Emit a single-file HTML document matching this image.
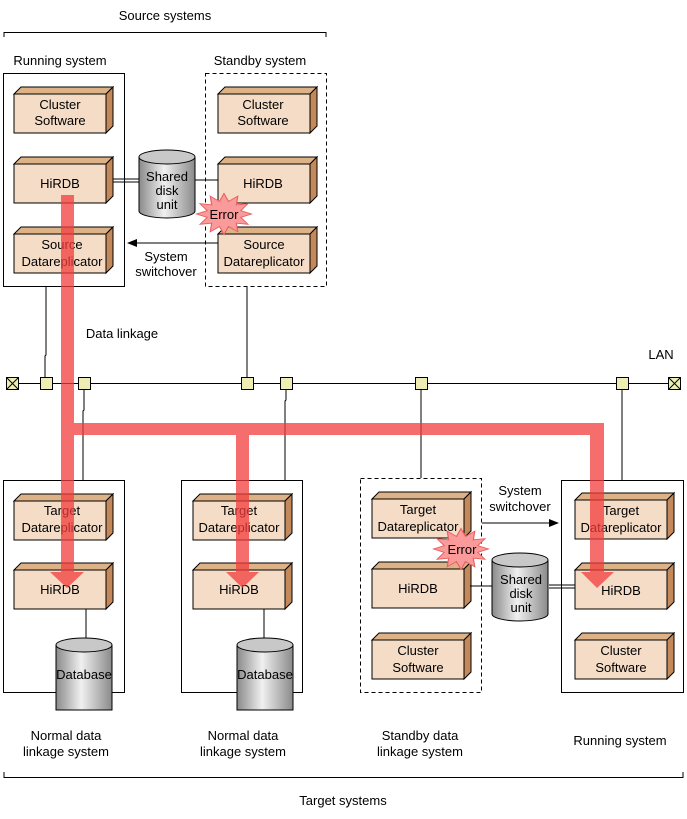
<!DOCTYPE html>
<html><head><meta charset="utf-8"><style>
html,body{margin:0;padding:0;background:#fff}
svg{display:block}
text{font-family:"Liberation Sans",sans-serif;font-size:13px;fill:#000;text-anchor:middle}
</style></head><body>
<svg width="687" height="819" viewBox="0 0 687 819" xmlns="http://www.w3.org/2000/svg">
<defs>
<g id="blk">
<polygon points="0,0 7,-7 99,-7 92,0" fill="#ddb287" stroke="#000" stroke-width="1"/>
<polygon points="92,0 99,-7 99,32 92,39" fill="#c4895a" stroke="#000" stroke-width="1"/>
<rect x="0" y="0" width="92" height="39" fill="#f5dcc6" stroke="#000" stroke-width="1"/>
</g>
<linearGradient id="cg" x1="0" x2="1" y1="0" y2="0">
<stop offset="0" stop-color="#8a8a8a"/><stop offset="0.45" stop-color="#f0f0f0"/><stop offset="1" stop-color="#8a8a8a"/>
</linearGradient>
<g id="cyl">
<path d="M0,7 L0,61 A28,7 0 0 0 56,61 L56,7" fill="url(#cg)" stroke="#000"/>
<ellipse cx="28" cy="7" rx="28" ry="7" fill="#c8c8c8" stroke="#000"/>
</g>
<g id="dbc">
<path d="M0,7 L0,72 L56,72 L56,7" fill="url(#cg)" stroke="#000"/>
<ellipse cx="28" cy="7" rx="28" ry="7" fill="#c8c8c8" stroke="#000"/>
</g>
<polygon id="star" points="19,0 11.6,3.1 16.5,9.5 8.5,8.5 9.5,16.5 3.1,11.6 0,19 -3.1,11.6 -9.5,16.5 -8.5,8.5 -16.5,9.5 -11.6,3.1 -19,0 -11.6,-3.1 -16.5,-9.5 -8.5,-8.5 -9.5,-16.5 -3.1,-11.6 0,-19 3.1,-11.6 9.5,-16.5 8.5,-8.5 16.5,-9.5 11.6,-3.1" fill="#fa9a9a" stroke="#e86060" stroke-width="0.8"/>
</defs>

<!-- top bracket -->
<text x="165" y="20">Source systems</text>
<path d="M4,37 V32.5 H326 V37" fill="none" stroke="#000"/>

<!-- source boxes -->
<text x="60" y="65">Running system</text>
<text x="260" y="65">Standby system</text>
<rect x="3.5" y="73.5" width="121" height="213" fill="none" stroke="#000"/>
<rect x="205.5" y="73.5" width="121" height="213" fill="none" stroke="#000" stroke-dasharray="4,3"/>

<use href="#blk" x="14" y="94"/><text x="60" y="109">Cluster</text><text x="60" y="125">Software</text>
<use href="#blk" x="14" y="164"/><text x="60" y="188">HiRDB</text>
<use href="#blk" x="14" y="234"/><text x="62" y="249">Source</text><text x="62" y="266">Datareplicator</text>
<use href="#blk" x="218" y="94"/><text x="263" y="109">Cluster</text><text x="263" y="125">Software</text>
<use href="#blk" x="218" y="164"/><text x="263" y="188">HiRDB</text>
<use href="#blk" x="218" y="234"/><text x="264" y="249">Source</text><text x="264" y="266">Datareplicator</text>

<use href="#cyl" x="139" y="150"/>
<text x="167" y="181">Shared</text><text x="167" y="195">disk</text><text x="167" y="209">unit</text>
<path d="M113,179 H139 M113,182 H139" stroke="#000"/>
<path d="M195,180 H218" stroke="#000"/>
<g transform="translate(224,214) scale(1.45,1.08)"><use href="#star"/></g>
<text x="224" y="219">Error</text>
<path d="M218,243 H134" stroke="#000"/><polygon points="127,243 137,239 137,247" fill="#000"/>
<text x="166" y="261">System</text><text x="166" y="276">switchover</text>

<!-- LAN -->
<path d="M46,287 V355 L45,356 V383 M247,287 V383" stroke="#000" fill="none"/>
<text x="122" y="338">Data linkage</text>
<text x="661" y="359">LAN</text>
<path d="M12,383.5 H675" stroke="#000"/>
<path d="M84,389 V410 L83,411 V480 M286,389 V400 L285,401 V480 M421,389 V478 M622,389 V480" stroke="#000" fill="none"/>
<g fill="#eeeeb4" stroke="#000">
<rect x="6.5" y="377.5" width="12" height="12"/>
<rect x="40.5" y="377.5" width="12" height="12"/>
<rect x="78.5" y="377.5" width="12" height="12"/>
<rect x="241.5" y="377.5" width="12" height="12"/>
<rect x="280.5" y="377.5" width="12" height="12"/>
<rect x="415.5" y="377.5" width="12" height="12"/>
<rect x="616.5" y="377.5" width="12" height="12"/>
<rect x="668.5" y="377.5" width="12" height="12"/>
</g>
<path d="M6.5,377.5 L18.5,389.5 M18.5,377.5 L6.5,389.5 M668.5,377.5 L680.5,389.5 M680.5,377.5 L668.5,389.5" stroke="#000"/>

<!-- target boxes -->
<rect x="3.5" y="480.5" width="121" height="212" fill="none" stroke="#000"/>
<rect x="181.5" y="480.5" width="121" height="212" fill="none" stroke="#000"/>
<rect x="360.5" y="478.5" width="121" height="214" fill="none" stroke="#000" stroke-dasharray="4,3"/>
<rect x="561.5" y="480.5" width="122" height="212" fill="none" stroke="#000"/>

<use href="#blk" x="14" y="501"/><text x="62" y="515">Target</text><text x="62" y="532">Datareplicator</text>
<use href="#blk" x="14" y="570"/><text x="60" y="594">HiRDB</text>
<path d="M86,609 V638" stroke="#000"/>
<use href="#dbc" x="56" y="638"/><text x="84" y="679">Database</text>

<use href="#blk" x="193" y="501"/><text x="239" y="515">Target</text><text x="239" y="532">Datareplicator</text>
<use href="#blk" x="193" y="570"/><text x="239" y="594">HiRDB</text>
<path d="M264,609 V638" stroke="#000"/>
<use href="#dbc" x="237" y="638"/><text x="265" y="679">Database</text>

<use href="#blk" x="372" y="499"/><text x="418" y="514">Target</text><text x="418" y="531">Datareplicator</text>
<use href="#blk" x="372" y="569"/><text x="418" y="593">HiRDB</text>
<use href="#blk" x="372" y="640"/><text x="418" y="655">Cluster</text><text x="418" y="672">Software</text>

<use href="#blk" x="575" y="500"/><text x="621" y="515">Target</text><text x="621" y="532">Datareplicator</text>
<use href="#blk" x="575" y="570"/><text x="621" y="595">HiRDB</text>
<use href="#blk" x="575" y="640"/><text x="621" y="655">Cluster</text><text x="621" y="672">Software</text>

<use href="#cyl" x="492" y="553"/>
<text x="521" y="584">Shared</text><text x="521" y="598">disk</text><text x="521" y="612">unit</text>
<path d="M470,586 H492" stroke="#000"/>
<path d="M549,585 H575 M549,588 H575" stroke="#000"/>
<g transform="translate(461,549) scale(1.45,1.08)"><use href="#star"/></g>
<text x="462" y="554">Error</text>
<path d="M482,523 H550" stroke="#000"/><polygon points="559,523 549,519 549,527" fill="#000"/>
<text x="520" y="495">System</text><text x="520" y="511">switchover</text>

<!-- red flow -->
<g fill="#f23c3c" fill-opacity="0.75">
<path d="M61,195 H74 V423 H604 V572 H590 V435 H249 V572 H236 V435 H74 V572 H61 Z"/>
<polygon points="50,572 84,572 67,588"/>
<polygon points="226,572 259,572 242.5,588"/>
<polygon points="581,572 614,572 597,588"/>
</g>

<!-- bottom labels -->
<text x="66" y="740">Normal data</text><text x="66" y="756">linkage system</text>
<text x="243" y="740">Normal data</text><text x="243" y="756">linkage system</text>
<text x="420" y="740">Standby data</text><text x="420" y="756">linkage system</text>
<text x="620" y="745">Running system</text>
<path d="M4,772 V777.5 H683 V772" fill="none" stroke="#000"/>
<text x="343" y="805">Target systems</text>
</svg>
</body></html>
